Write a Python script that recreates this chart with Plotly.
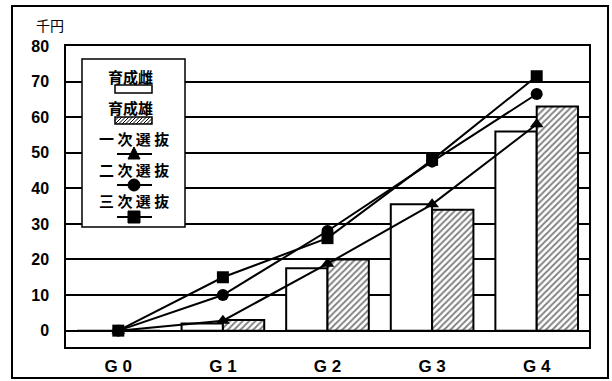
import plotly.graph_objects as go

# ---- data ----
categories = ["G 0", "G 1", "G 2", "G 3", "G 4"]
female_rearing = [0, 2, 17.5, 35.5, 56]      # 育成雌
male_rearing = [0, 3, 20, 34, 63]            # 育成雄
first_select = [0, 2.8, 18.8, 35.5, 58]      # 一次選抜
second_select = [0, 10, 28, 47.5, 66.5]      # 二次選抜
third_select = [0, 15, 26, 48, 71.5]         # 三次選抜
y_ticks = [0, 10, 20, 30, 40, 50, 60, 70, 80]

legend_labels = ["育成雌", "育成雄", "一 次 選 抜", "二 次 選 抜", "三 次 選 抜"]

FONT = "Liberation Sans, Arial, Noto Sans CJK JP, sans-serif"
JFONT = "Noto Sans CJK JP, sans-serif"

W, H = 612, 381
ML, MR, MT, MB = 66, 23, 46, 34
X0, X1 = ML, W - MR
Y0, Y1 = MT, H - MB


def px(x):
    return (x - X0) / (X1 - X0)


def py(y):
    return (Y1 - y) / (Y1 - Y0)


fig = go.Figure()

fig.add_trace(go.Bar(
    x=categories, y=female_rearing, name="育成雌",
    marker=dict(color="white", line=dict(color="black", width=2)),
    showlegend=False,
))
fig.add_trace(go.Bar(
    x=categories, y=male_rearing, name="育成雄",
    marker=dict(color="white", line=dict(color="black", width=2),
                pattern=dict(shape="/", fgcolor="black", bgcolor="white",
                             size=4.5, solidity=0.4)),
    showlegend=False,
))

for vals, sym, name in [(first_select, "triangle-up", "一次選抜"),
                        (second_select, "circle", "二次選抜"),
                        (third_select, "square", "三次選抜")]:
    fig.add_trace(go.Scatter(
        x=categories, y=vals, name=name, mode="lines+markers",
        line=dict(color="black", width=2),
        marker=dict(symbol=sym, size=12, color="black"),
        showlegend=False,
    ))

shapes = []
annotations = []

# outer frame
shapes.append(dict(type="rect", xref="paper", yref="paper",
                   x0=px(12), x1=px(608), y0=py(378), y1=py(6),
                   line=dict(color="black", width=2), fillcolor="rgba(0,0,0,0)",
                   layer="above"))

# legend box
shapes.append(dict(type="rect", xref="paper", yref="paper",
                   x0=px(82), x1=px(185), y0=py(227), y1=py(59),
                   line=dict(color="black", width=1.5), fillcolor="white",
                   layer="above"))

text_y = [76, 107, 138, 169, 200]
text_x = [130, 130, 134, 134, 134]
for lab, tx, ty in zip(legend_labels, text_x, text_y):
    annotations.append(dict(xref="paper", yref="paper", x=px(tx), y=py(ty),
                            text=lab, showarrow=False,
                            font=dict(family=JFONT, size=15, color="black", weight="bold"),
                            xanchor="center", yanchor="middle"))

# white bar sample
shapes.append(dict(type="rect", xref="paper", yref="paper",
                   x0=px(115), x1=px(152), y0=py(93), y1=py(85),
                   line=dict(color="black", width=1.5), fillcolor="white", layer="above"))
# hatched bar sample
hx0, hx1, hy0, hy1 = 115, 152, 117, 124
step = 3.5
k = hx0 - (hy1 - hy0)
while k < hx1:
    xa, ya = k, hy1
    xb, yb = k + (hy1 - hy0), hy0
    if xa < hx0:
        ya = hy1 - (hx0 - xa)
        xa = hx0
    if xb > hx1:
        yb = hy0 + (xb - hx1)
        xb = hx1
    if xb > xa:
        shapes.append(dict(type="line", xref="paper", yref="paper",
                           x0=px(xa), y0=py(ya), x1=px(xb), y1=py(yb),
                           line=dict(color="black", width=1), layer="above"))
    k += step
shapes.append(dict(type="rect", xref="paper", yref="paper",
                   x0=px(hx0), x1=px(hx1), y0=py(hy1), y1=py(hy0),
                   line=dict(color="black", width=1.5), fillcolor="rgba(0,0,0,0)", layer="above"))

# line+marker samples
for ly, kind in [(154, "tri"), (185, "circ"), (217, "sq")]:
    shapes.append(dict(type="line", xref="paper", yref="paper",
                       x0=px(117), x1=px(152), y0=py(ly), y1=py(ly),
                       line=dict(color="black", width=2), layer="above"))
    cx = 134
    r = 6
    if kind == "tri":
        path = "M {} {} L {} {} L {} {} Z".format(px(cx - r), py(ly + 5), px(cx + r), py(ly + 5),
                                                  px(cx), py(ly - 7))
        shapes.append(dict(type="path", xref="paper", yref="paper", path=path,
                           fillcolor="black", line=dict(color="black", width=1), layer="above"))
    elif kind == "circ":
        shapes.append(dict(type="circle", xref="paper", yref="paper",
                           x0=px(cx - r), x1=px(cx + r), y0=py(ly + r), y1=py(ly - r),
                           fillcolor="black", line=dict(color="black", width=1), layer="above"))
    else:
        shapes.append(dict(type="rect", xref="paper", yref="paper",
                           x0=px(cx - r), x1=px(cx + r), y0=py(ly + r), y1=py(ly - r),
                           fillcolor="black", line=dict(color="black", width=1), layer="above"))

# unit label
annotations.append(dict(xref="paper", yref="paper", x=px(50), y=py(25),
                        text="千円", showarrow=False,
                        font=dict(family=JFONT, size=14, color="black"),
                        xanchor="center", yanchor="middle"))

fig.update_layout(
    width=W, height=H,
    margin=dict(l=ML, r=MR, t=MT, b=MB, pad=0, autoexpand=False),
    paper_bgcolor="white", plot_bgcolor="white",
    barmode="group", bargap=0.21, bargroupgap=0,
    font=dict(family=FONT, color="black", size=14),
    shapes=shapes, annotations=annotations,
    showlegend=False,
)
fig.update_xaxes(
    automargin=False,
    showline=True, mirror=True, linecolor="black", linewidth=1.5,
    showgrid=False, ticks="", ticklabelstandoff=3,
    tickfont=dict(family=FONT, size=17, color="black", weight="bold"),
)
fig.update_yaxes(
    automargin=False,
    range=[-4.6, 80], tickvals=y_ticks,
    showline=True, mirror=True, linecolor="black", linewidth=1.5,
    showgrid=True, gridcolor="black", gridwidth=1.5,
    zeroline=True, zerolinecolor="black", zerolinewidth=1.5,
    ticks="", ticklabelstandoff=12,
    tickfont=dict(family=FONT, size=16, color="black", weight="bold"),
)

fig.write_html("out.html")
